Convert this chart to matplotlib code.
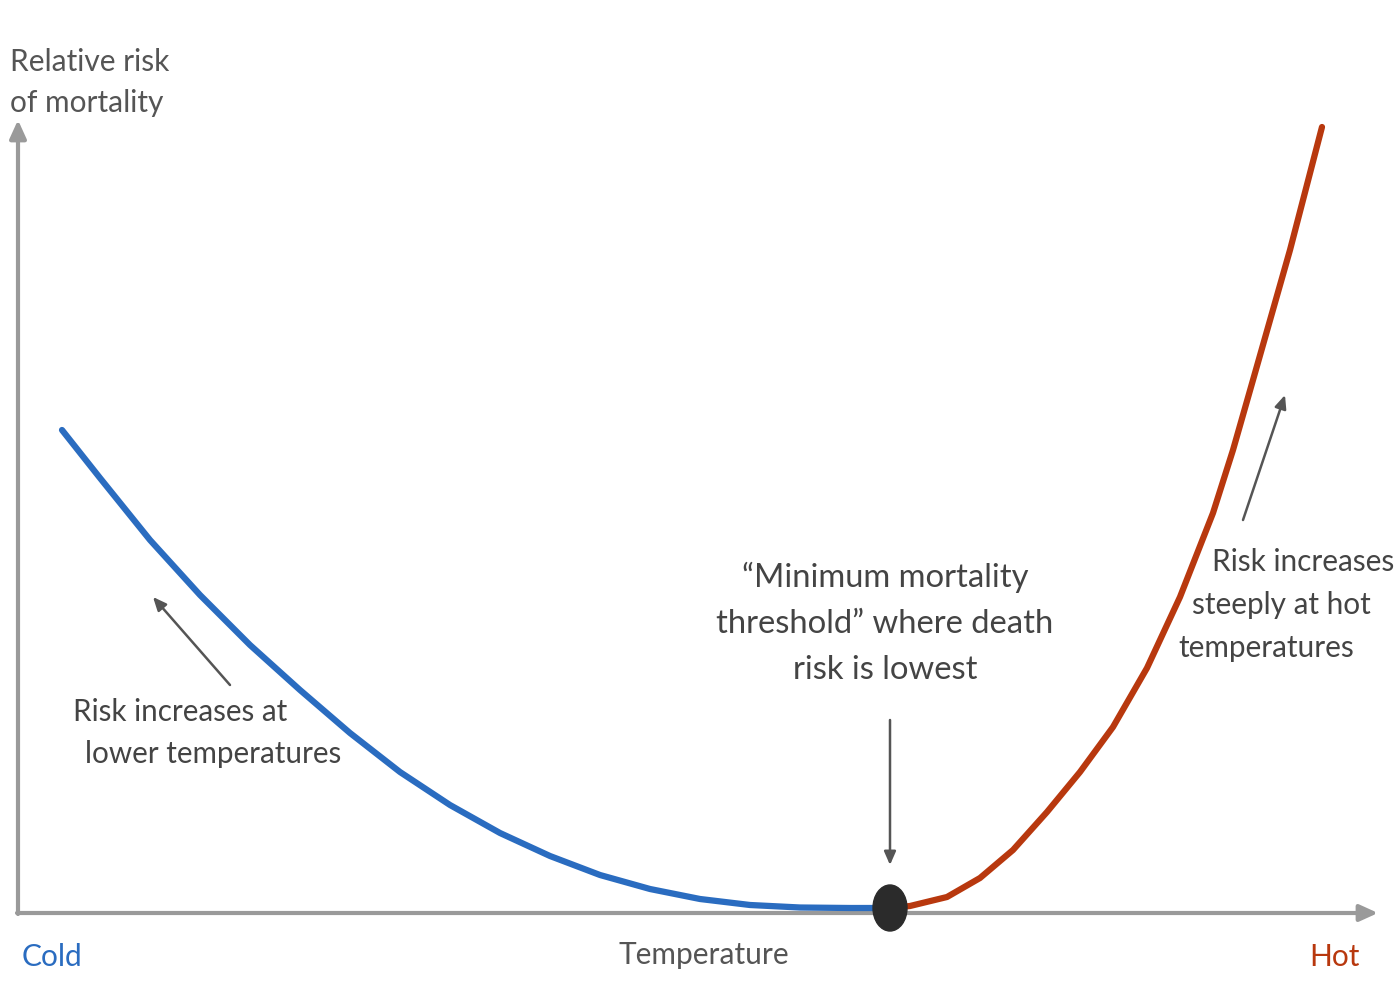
import matplotlib.pyplot as plt
from matplotlib.patches import Ellipse

plt.rcParams['font.family'] = ['Lato', 'DejaVu Sans']

# temperature index and relative risk (arbitrary units)
cold_temp = [44, 82, 132, 182, 232, 282, 332, 382, 432, 482, 532, 582, 632, 682, 732, 782, 832, 872]
cold_risk = [483, 435, 373, 318, 268, 223, 180, 141, 108, 80, 57, 38, 24, 14, 8, 5.5, 5, 5]
hot_temp = [872, 892, 929, 962, 995, 1029, 1062, 1095, 1129, 1162, 1195, 1215, 1235, 1272, 1304]
hot_risk = [5, 7, 16, 35, 63, 101, 141, 186, 245, 316, 400, 463, 533, 663, 786]

blue = '#2a6cc0'
red = '#b8380e'
grey = '#444444'
axis_grey = '#9a9a9a'

fig = plt.figure(figsize=(14, 10), dpi=100)
ax = fig.add_axes([0, 0, 1, 1])
ax.set_xlim(-18, 1382)
ax.set_ylim(-87, 913)
ax.axis('off')

# axes with arrow heads
ax.annotate('', xy=(1360, 0), xytext=(-1, 0),
            arrowprops=dict(arrowstyle='-|>,head_length=1.1,head_width=0.5', color=axis_grey, lw=3,
                            shrinkA=0, shrinkB=0))
ax.annotate('', xy=(0, 793), xytext=(0, -1),
            arrowprops=dict(arrowstyle='-|>,head_length=1.1,head_width=0.5', color=axis_grey, lw=3,
                            shrinkA=0, shrinkB=0))

ax.plot(cold_temp, cold_risk, color=blue, lw=4.5, solid_capstyle='round',
        solid_joinstyle='round', zorder=3)
ax.plot(hot_temp, hot_risk, color=red, lw=4.5, solid_capstyle='round',
        solid_joinstyle='round', zorder=3)

# minimum mortality point, where the two curves meet
ax.add_patch(Ellipse((hot_temp[0], hot_risk[0]), 34, 46, color='#2b2b2b', zorder=4))

arrow = dict(arrowstyle='-|>,head_length=0.8,head_width=0.35', color='#555555', lw=1.8,
             shrinkA=0, shrinkB=0)
ax.annotate('', xy=(135, 316), xytext=(212, 228), arrowprops=arrow)
ax.annotate('', xy=(872, 48), xytext=(872, 193), arrowprops=arrow)
ax.annotate('', xy=(1267, 518), xytext=(1225, 393), arrowprops=arrow)

ax.text(-8, 851, 'Relative risk', fontsize=21.5, color='#555555', va='center', ha='left')
ax.text(-8, 810, 'of mortality', fontsize=21.5, color='#555555', va='center', ha='left')

ax.text(55, 201, 'Risk increases at', fontsize=21.3, color=grey, va='center', ha='left')
ax.text(67, 159, 'lower temperatures', fontsize=21.3, color=grey, va='center', ha='left')

ax.text(867, 336, '\u201cMinimum mortality', fontsize=23.6, color=grey, va='center', ha='center')
ax.text(867, 289, 'threshold\u201d where death', fontsize=23.6, color=grey, va='center', ha='center')
ax.text(867, 243, 'risk is lowest', fontsize=23.6, color=grey, va='center', ha='center')

ax.text(1194, 351, 'Risk increases', fontsize=21.4, color=grey, va='center', ha='left')
ax.text(1174, 308, 'steeply at hot', fontsize=21.4, color=grey, va='center', ha='left')
ax.text(1160, 265, 'temperatures', fontsize=21.4, color=grey, va='center', ha='left')

ax.text(4, -44, 'Cold', fontsize=21.5, color=blue, va='center', ha='left')
ax.text(686, -42, 'Temperature', fontsize=21.5, color='#555555', va='center', ha='center')
ax.text(1342, -44, 'Hot', fontsize=21.5, color=red, va='center', ha='right')

fig.savefig('out.png', dpi=100, facecolor='white')
